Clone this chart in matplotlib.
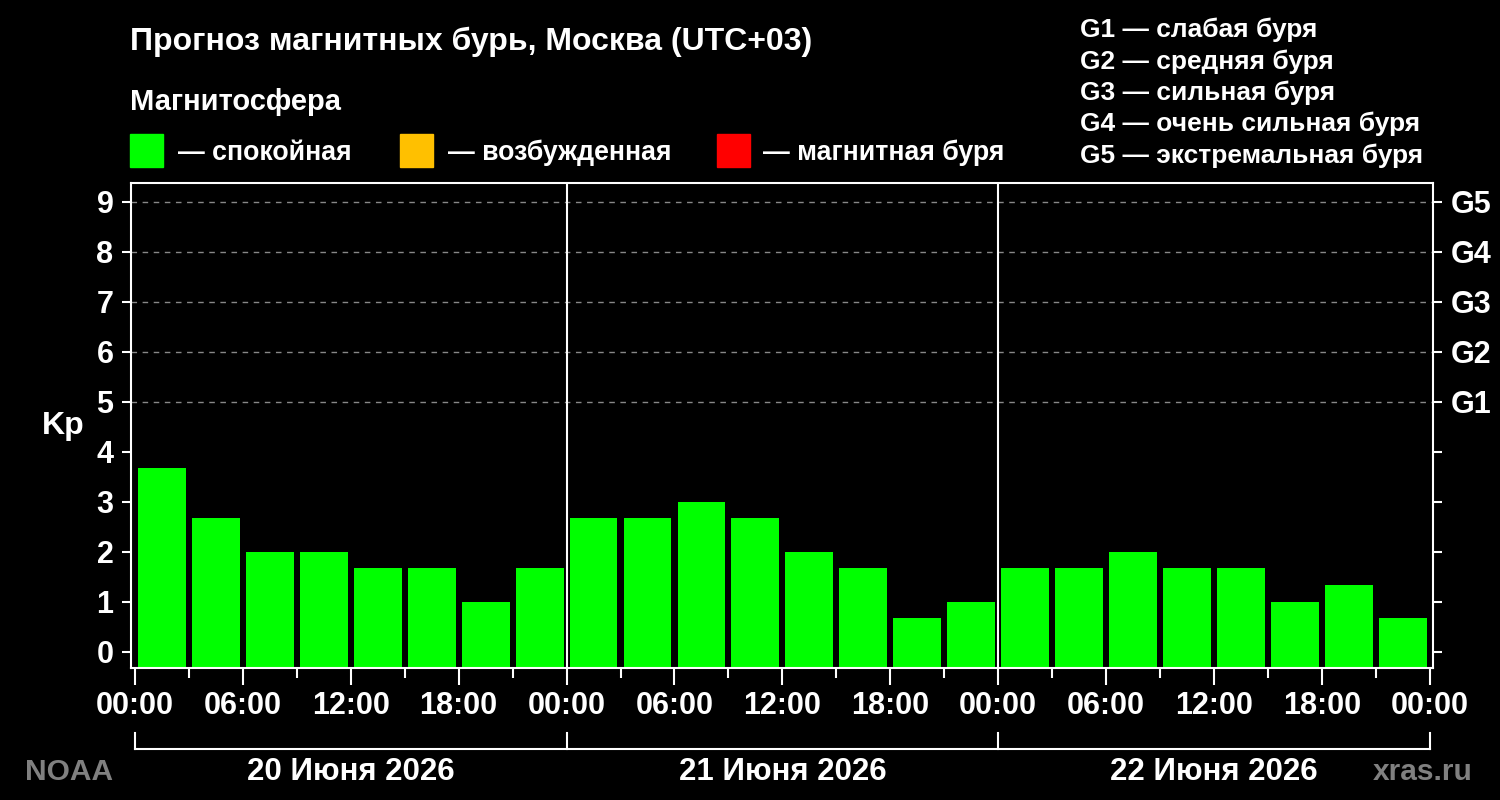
import matplotlib
matplotlib.use("Agg")
import matplotlib.pyplot as plt
import matplotlib.patches as mpatches
import matplotlib.transforms as mtransforms
import numpy as np

plt.rcParams['font.family'] = ['Liberation Sans', 'DejaVu Sans']
plt.rcParams['font.weight'] = 'bold'

# Kp forecast, 3-hour intervals
day1 = [3.67, 2.67, 2.0, 2.0, 1.67, 1.67, 1.0, 1.67]
day2 = [2.67, 2.67, 3.0, 2.67, 2.0, 1.67, 0.67, 1.0]
day3 = [1.67, 1.67, 2.0, 1.67, 1.67, 1.0, 1.33, 0.67]
days = ["20 Июня 2026", "21 Июня 2026", "22 Июня 2026"]
time_labels = ["00:00", "06:00", "12:00", "18:00"] * 3 + ["00:00"]
g_labels = ["", "", "", "", "", "G1", "G2", "G3", "G4", "G5"]
g_desc = ["G1 — слабая буря", "G2 — средняя буря", "G3 — сильная буря",
          "G4 — очень сильная буря", "G5 — экстремальная буря"]
legend_names = ["— спокойная", "— возбужденная", "— магнитная буря"]
legend_colors = ["#00ff00", "#ffc000", "#ff0000"]

kp = np.array(day1 + day2 + day3)
hours = np.arange(len(kp)) * 3 + 1.5


def kp_color(v):
    if v >= 5:
        return legend_colors[2]
    if v >= 4:
        return legend_colors[1]
    return legend_colors[0]


fig = plt.figure(figsize=(15, 8), dpi=100, facecolor="black")
ax = fig.add_axes([0.0873, 0.165, 0.868, 0.606], facecolor="black")

ymin, ymax = -0.33, 9.37
ax.set_xlim(-0.22, 72.17)
ax.set_ylim(ymin, ymax)

for y in range(5, 10):
    ax.axhline(y, color="#888888", lw=1, ls=(0, (4, 4)), zorder=0)

ax.bar(hours, kp - ymin, bottom=ymin, width=2.66,
       color=[kp_color(v) for v in kp], zorder=2)

for d in (24, 48):
    ax.axvline(d, color="white", lw=1.5, zorder=3)

for s in ax.spines.values():
    s.set_color("white")
    s.set_linewidth(1.5)

ax.set_xticks(np.arange(0, 73, 6))
ax.set_xticklabels(time_labels)
ax.set_xticks(np.arange(0, 73, 3), minor=True)
ax.set_yticks(range(10))
ax.tick_params(axis="x", which="major", length=12.5, width=1.5, color="white",
               labelcolor="white", labelsize=22, pad=4)
ax.tick_params(axis="x", which="minor", length=7, width=1.5, color="white")
ax.tick_params(axis="y", length=6.5, width=1.5, color="white",
               labelcolor="white", labelsize=22, pad=6)

ax2 = ax.twinx()
ax2.set_ylim(ymin, ymax)
ax2.set_yticks(range(10))
ax2.set_yticklabels(g_labels)
ax2.tick_params(axis="y", length=6.5, width=1.5, color="white",
                labelcolor="white", labelsize=22, pad=6)
for s in ax2.spines.values():
    s.set_visible(False)

ax.text(-0.052, 0.5, "Kp", transform=ax.transAxes, color="white",
        fontsize=23, ha="center", va="center")

# day brackets below the axis
trans = mtransforms.blended_transform_factory(ax.transData, ax.transAxes)
ax.plot([0, 72], [-0.167, -0.167], color="white", lw=1.5,
        transform=trans, clip_on=False)
for d in (0, 24, 48, 72):
    ax.plot([d, d], [-0.134, -0.167], color="white", lw=1.5,
            transform=trans, clip_on=False)
for i, name in enumerate(days):
    ax.text(12 + 24 * i, -0.231, name, transform=trans, color="white",
            fontsize=22.5, ha="center", va="baseline")

fig.text(25 / 1500, 1 - 780 / 800, "NOAA", color="#808080", fontsize=21.5,
         ha="left", va="baseline")
fig.text(1473 / 1500, 1 - 780 / 800, "xras.ru", color="#808080", fontsize=21.5,
         ha="right", va="baseline")

fig.text(130 / 1500, 1 - 50 / 800, "Прогноз магнитных бурь, Москва (UTC+03)",
         color="white", fontsize=23, ha="left", va="baseline")
fig.text(130 / 1500, 1 - 110 / 800, "Магнитосфера", color="white",
         fontsize=21, ha="left", va="baseline")

sq_x = [130, 400, 717]
txt_x = [178, 448, 763]
for sx, tx, name, col in zip(sq_x, txt_x, legend_names, legend_colors):
    fig.add_artist(mpatches.Rectangle((sx / 1500, 1 - 167 / 800), 33 / 1500,
                                      33 / 800, color=col,
                                      transform=fig.transFigure))
    fig.text(tx / 1500, 1 - 160 / 800, name, color="white", fontsize=19.3,
             ha="left", va="baseline")

for i, line in enumerate(g_desc):
    fig.text(1080 / 1500, 1 - (37 + 31.5 * i) / 800, line, color="white",
             fontsize=19, ha="left", va="baseline")

fig.savefig("out.png", dpi=100, facecolor="black")
